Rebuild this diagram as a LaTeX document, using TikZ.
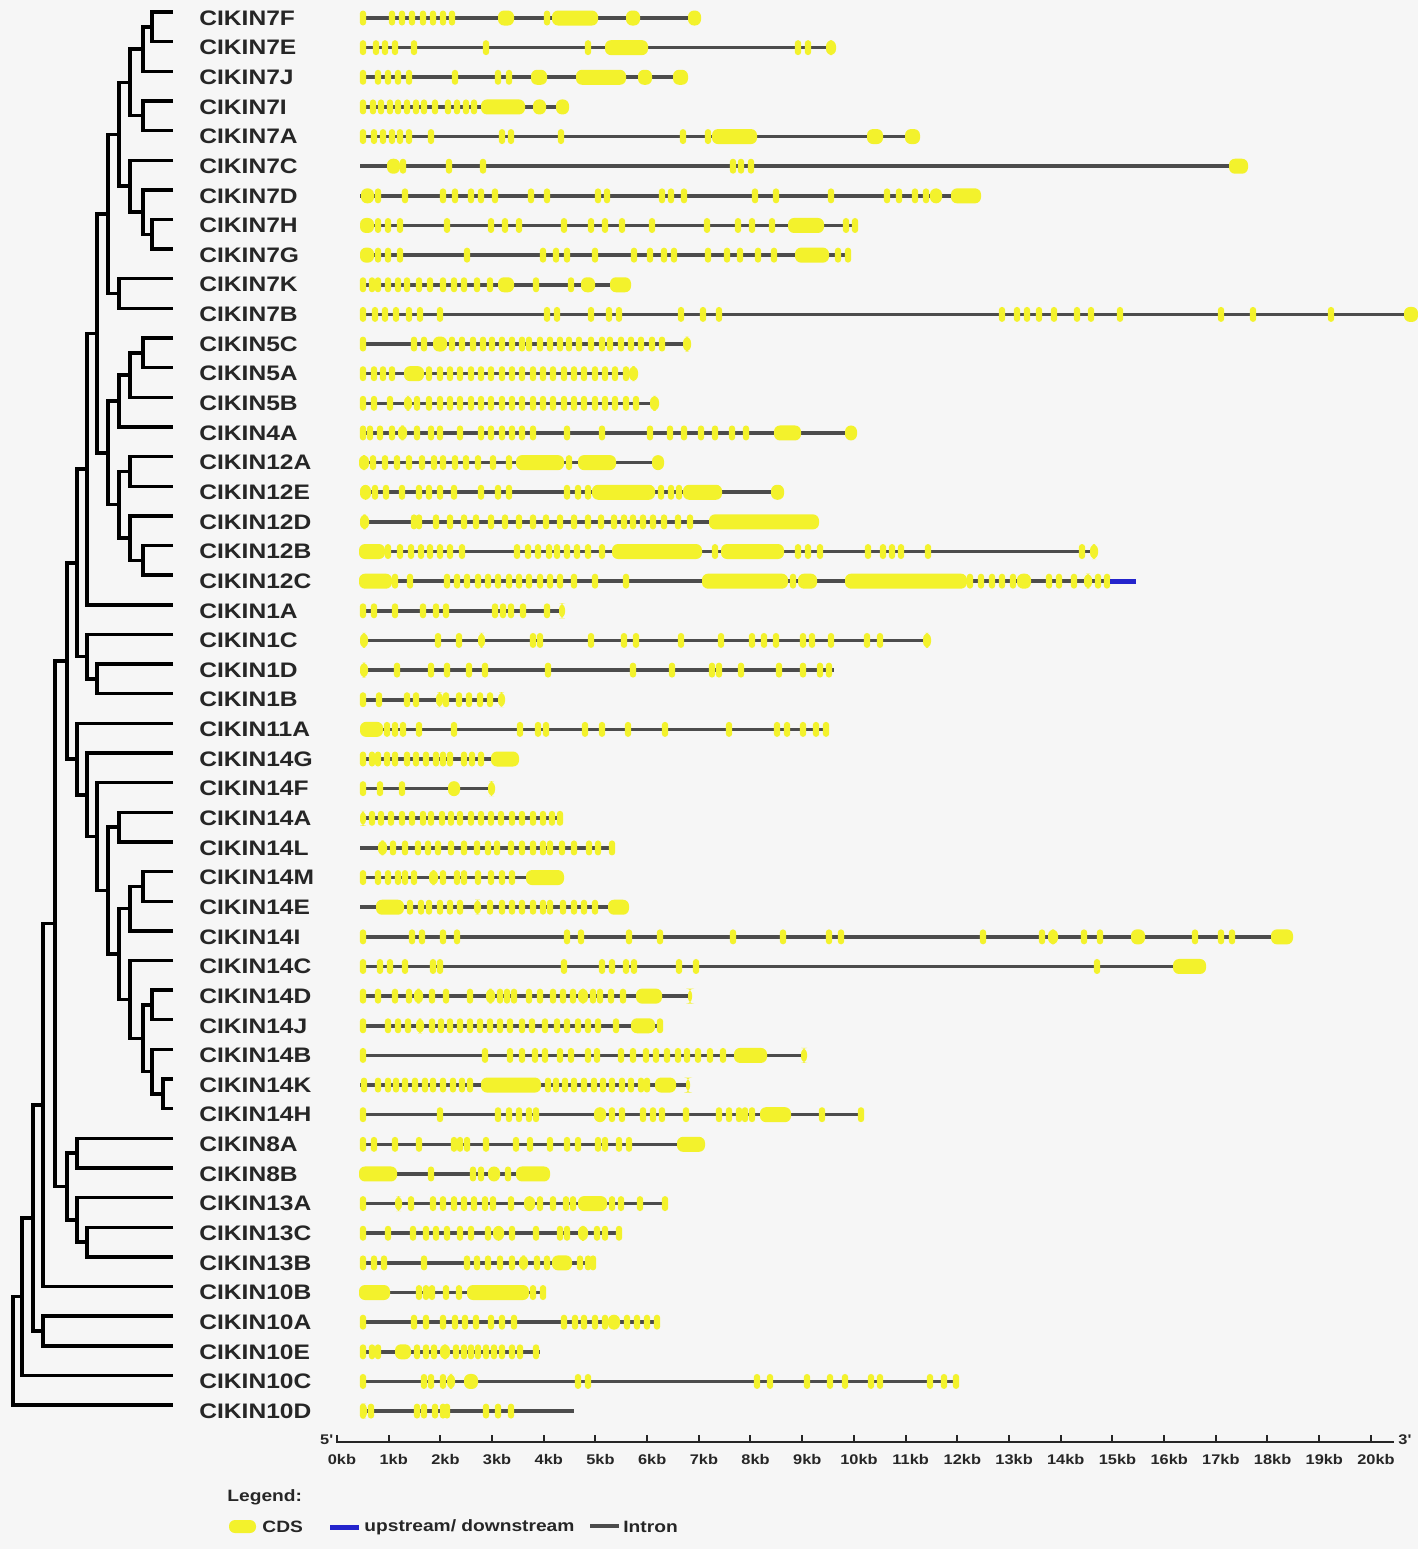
\documentclass[tikz,border=0pt]{standalone}
\usepackage{fontspec}
\setmainfont{Liberation Sans}[FakeStretch=1.17]
\usepackage{tikz}
\usetikzlibrary{calc}
\definecolor{paper}{HTML}{F6F6F6}
\definecolor{cdsy}{HTML}{F3F22C}
\definecolor{introngray}{HTML}{4C4C4C}
\definecolor{updown}{HTML}{2424CC}
\definecolor{ink}{HTML}{262626}

% one internal node of the tree: name, x, child a, child b
\newcommand{\clade}[4]{%
  \path let \p1=(#3), \p2=(#4), \p3=(#2,0) in (\x3,{0.5*(\y1+\y2)}) coordinate (#1);
  \draw[branch] (#3) -| (#1) |- (#4);
}
% one gene model: row, end, small exons, large exons
\newcommand{\gene}[4]{%
  \pgfmathsetmacro{\gy}{18+29.64*#1}
  \draw[intron] (360,\gy) -- (#2,\gy);
  \foreach \e in {#3} \fill[cds] (\e-3.2,\gy-7.5) rectangle (\e+3.2,\gy+7.5);
  \foreach \a/\b in {#4} \fill[cds,rounded corners=3pt] (\a,\gy-7.5) rectangle (\b,\gy+7.5);
}

\begin{document}
\begin{tikzpicture}[x=0.5pt,y=-0.5pt,
  branch/.style={line width=1.7pt, black},
  intron/.style={line width=1.8pt, introngray},
  cds/.style={fill=cdsy, rounded corners=1.6pt},
  genelabel/.style={anchor=west, inner sep=0pt, text=ink, font=\bfseries\fontsize{10.5}{12}\selectfont},
  kblabel/.style={inner sep=0pt, text=ink, font=\bfseries\fontsize{7}{8}\selectfont},
  legendtext/.style={anchor=west, inner sep=0pt, text=ink, font=\bfseries\fontsize{8.2}{10}\selectfont}
]
\fill[paper] (0,0) rectangle (1418,1549);
\useasboundingbox (0,0) rectangle (1418,1549);

% gene names and tree tips
\foreach \name [count=\i from 0] in {CIKIN7F,CIKIN7E,CIKIN7J,CIKIN7I,CIKIN7A,CIKIN7C,CIKIN7D,CIKIN7H,CIKIN7G,CIKIN7K,CIKIN7B,
  CIKIN5C,CIKIN5A,CIKIN5B,CIKIN4A,CIKIN12A,CIKIN12E,CIKIN12D,CIKIN12B,CIKIN12C,CIKIN1A,CIKIN1C,CIKIN1D,CIKIN1B,
  CIKIN11A,CIKIN14G,CIKIN14F,CIKIN14A,CIKIN14L,CIKIN14M,CIKIN14E,CIKIN14I,CIKIN14C,CIKIN14D,CIKIN14J,CIKIN14B,
  CIKIN14K,CIKIN14H,CIKIN8A,CIKIN8B,CIKIN13A,CIKIN13C,CIKIN13B,CIKIN10B,CIKIN10A,CIKIN10E,CIKIN10C,CIKIN10D} {
  \node[genelabel] (\name) at (199,{18+29.64*\i}) {\name};
  \coordinate (t\i) at (173,{12+29.64*\i});
}

% tree
\clade{n1}{152}{t0}{t1}
\clade{n2}{143}{n1}{t2}
\clade{n3}{143}{t3}{t4}
\clade{n4}{130}{n2}{n3}
\clade{n5}{152}{t7}{t8}
\clade{n6}{143}{t6}{n5}
\clade{n7}{130}{t5}{n6}
\clade{n8}{119}{n4}{n7}
\clade{n9}{119}{t9}{t10}
\clade{n10}{108}{n8}{n9}
\clade{n11}{143}{t11}{t12}
\clade{n12}{130}{n11}{t13}
\clade{n13}{119}{n12}{t14}
\clade{n14}{130}{t15}{t16}
\clade{n15}{143}{t18}{t19}
\clade{n16}{130}{t17}{n15}
\clade{n17}{119}{n14}{n16}
\clade{n18}{108}{n13}{n17}
\clade{n19}{97}{n10}{n18}
\clade{n20}{87}{n19}{t20}
\clade{n21}{97}{t22}{t23}
\clade{n22}{87}{t21}{n21}
\clade{n23}{77}{n20}{n22}
\clade{n24}{119}{t27}{t28}
\clade{n25}{143}{t29}{t30}
\clade{n26}{130}{n25}{t31}
\clade{n27}{152}{t33}{t34}
\clade{n28}{163}{t36}{t37}
\clade{n29}{152}{t35}{n28}
\clade{n30}{143}{n27}{n29}
\clade{n31}{130}{t32}{n30}
\clade{n32}{119}{n26}{n31}
\clade{n33}{108}{n24}{n32}
\clade{n34}{97}{t26}{n33}
\clade{n35}{87}{t25}{n34}
\clade{n36}{77}{t24}{n35}
\clade{n37}{67}{n23}{n36}
\clade{n38}{77}{t38}{t39}
\clade{n39}{87}{t41}{t42}
\clade{n40}{77}{t40}{n39}
\clade{n41}{67}{n38}{n40}
\clade{n42}{55}{n37}{n41}
\clade{n43}{43}{n42}{t43}
\clade{n44}{43}{t44}{t45}
\clade{n45}{33}{n43}{n44}
\clade{n46}{22}{n45}{t46}
\clade{n47}{13}{n46}{t47}

% gene models
\gene{0}{700}{363,392,402,412,423,433,443,452,547}{498/514,552/598,626/640,688/701}
\gene{1}{833}{363,376,385,395,414,486,588,798,808}{605/648,826/836}
\gene{2}{687}{363,378,388,398,409,455,498,509}{531/547,576/626,638/652,673/688}
\gene{3}{569}{363,373,381,390,398,407,416,424,435,448,457,466,474}{481/525,533/546,556/569}
\gene{4}{920}{363,374,383,392,400,409,431,502,511,561,683,708}{712/757,867/883,905/920}
\gene{5}{1248}{403,449,483,733,741,751}{387/400,1229/1248}
\gene{6}{981}{378,405,443,455,471,481,495,531,547,598,607,662,671,684,755,776,831,887,899,915,926}{361/374,930/942,951/981}
\gene{7}{857}{378,388,400,447,491,505,519,564,591,605,622,652,707,738,752,772,846,855}{360/374,788/824}
\gene{8}{851}{378,388,400,467,543,556,567,595,634,650,664,674,708,727,740,758,774,838,848}{360/374,795/829}
\gene{9}{631}{363,372,378,388,398,407,419,430,443,454,464,477,490,536,571}{498/514,581/595,610/631}
\gene{10}{1412}{363,375,385,396,409,420,440,547,557,591,609,619,681,703,719,1002,1017,1027,1039,1054,1077,1091,1120,1221,1253,1331}{1404/1418}
\gene{11}{691}{363,414,424,452,462,473,483,492,502,512,522,529,540,550,560,569,579,591,602,610,621,631,641,652,662}{433/447,683/691}
\gene{12}{637}{363,374,383,392,429,440,450,460,471,481,491,502,512,522,533,543,553,564,574,584,595,605,615,626}{404/424,629/638}
\gene{13}{659}{363,374,390,417,429,440,450,460,471,481,491,502,512,522,533,543,553,564,574,584,595,605,615,626,636}{404/412,650/659}
\gene{14}{857}{363,370,380,392,417,431,440,460,481,491,502,512,522,533,567,602,650,670,684,701,715,732,746}{398/407,774/801,845/857}
\gene{15}{664}{373,385,397,409,422,434,443,455,466,478,493,509,569}{359/369,516/564,578/616,652/664}
\gene{16}{784}{375,386,402,419,429,440,454,481,498,509,567,578,588,661,671,679}{360/371,592/655,683/722,771/784}
\gene{17}{819}{414,419,436,450,464,476,491,505,519,533,546,560,574,588,601,614,624,633,643,653,664,678,690}{360/369,709/819}
\gene{18}{1097}{388,400,411,421,430,440,450,462,517,528,538,549,557,567,577,588,602,715,798,808,820,868,883,892,901,928,1082}{359/385,612/702,721/784,1090/1098}
\gene{19}{1110}{395,410,447,457,467,478,488,498,509,519,529,540,550,560,574,595,626,793,970,981,992,1002,1013,1049,1059,1074,1098,1107}{359/392,702/788,798/817,845/967,1017/1031,1084/1092}
\gene{20}{565}{363,374,395,423,436,446,495,503,511,523,547}{559/565}
\gene{21}{930}{438,459,533,540,591,624,636,681,721,752,764,776,803,812,831,867,880}{360/368,478/485,923/931}
\gene{22}{834}{397,431,447,469,485,548,633,672,712,719,741,779,803,820,829}{360/368}
\gene{23}{503}{363,379,407,416,446,459,469,480,490}{436/443,498/505}
\gene{24}{828}{387,395,403,419,454,520,538,546,585,602,628,665,729,777,787,803,816,826}{360/383}
\gene{25}{519}{363,372,378,387,395,407,416,426,436,443,450,464,472,481}{491/519}
\gene{26}{495}{363,380,402}{448/460,488/495}
\gene{27}{562}{372,381,391,402,412,423,431,442,451,460,471,481,491,501,512,522,533,543,552,560}{360/366}
\gene{28}{613}{393,405,418,428,438,451,464,477,488,497,511,522,533,543,550,562,574,589,598,612}{378/387}
\gene{29}{564}{363,378,388,398,405,414,443,457,464,478,491,502,512}{429/438,526/564}
\gene{30}{629}{410,421,429,440,450,460,490,502,512,522,533,543,550,563,574,584,595}{376/404,474/481,608/629}
\gene{31}{1293}{363,412,422,443,457,567,581,629,660,733,783,829,841,983,1042,1084,1100,1195,1221,1232}{1048/1058,1131/1145,1271/1293}
\gene{32}{1206}{363,380,390,405,433,440,564,602,612,626,634,679,696,1097}{1173/1206}
\gene{33}{691}{363,378,395,409,432,446,470,500,507,514,529,540,553,563,573,593,600,611,623}{414/423,486/495,578/588,636/662,688/692}
\gene{34}{662}{363,388,398,408,432,441,450,460,470,480,490,500,510,522,532,545,557,567,578,588,598,616,660}{416/424,631/655}
\gene{35}{806}{363,485,510,522,535,545,560,571,588,597,621,633,646,656,667,678,687,698,710,723}{734/767,801/807}
\gene{36}{690}{364,378,388,396,405,415,425,433,443,453,462,470,548,556,565,574,584,594,603,612,622,631,641,647}{481/541,655/676,686/690}
\gene{37}{862}{363,440,498,509,519,529,536,612,622,643,653,662,686,719,729,739,745,752,822,861}{594/606,760/791}
\gene{38}{705}{363,374,395,419,454,460,467,486,516,530,550,567,578,598,605,619,629}{677/705}
\gene{39}{550}{431,473,481,508}{359/397,488/500,516/550}
\gene{40}{667}{363,411,433,443,454,464,474,485,493,511,540,553,566,573,612,621,640,665}{395/402,524/535,578/607}
\gene{41}{620}{363,388,413,426,436,447,460,471,488,512,536,560,567,597,605,619}{493/504,578/588}
\gene{42}{595}{363,374,384,424,467,477,488,500,512,537,547,580,588,593}{519/528,552/572}
\gene{43}{545}{419,426,432,446,459,533,543}{359/390,467/529}
\gene{44}{658}{363,414,426,443,455,465,476,491,502,514,564,575,584,595,605,627,637,647,657}{608/620}
\gene{45}{540}{363,372,378,417,426,434,456,464,471,478,486,494,502,512,520,536}{395/411,440/450}
\gene{46}{958}{363,424,431,443,578,588,757,770,807,830,845,871,880,930,944,956}{447/455,464/478}
\gene{47}{574}{363,371,417,424,435,443,447,486,498,511}{360/367}
% downstream region of CIKIN12C
\fill[updown] (1110,{18+29.64*19-2.5}) rectangle (1136,{18+29.64*19+2.5});

% scale bar
\draw[line width=1pt, ink] (336,1442) -- (1394,1442);
\foreach \n in {0,...,20} {
  \draw[line width=1pt, ink] ({336.8+51.7*\n},1442) -- ++(0,-7);
  \node[kblabel] (kb\n) at ({342+51.7*\n},1459) {\n kb};
}
\node[kblabel, anchor=east] (five) at (333,1440) {5\textquotesingle};
\node[kblabel, anchor=west] (three) at (1398,1440) {3\textquotesingle};

% legend
\node[legendtext] (legtitle) at (227,1497) {Legend:};
\fill[cds, rounded corners=3pt] (229,1520) rectangle (256,1533);
\node[legendtext] (legcds) at (262,1527) {CDS};
\fill[updown] (330,1524.5) rectangle (359,1529.5);
\node[legendtext] (legud) at (364,1527) {upstream/ downstream};
\draw[intron] (590,1526) -- (619,1526);
\node[legendtext] (legintron) at (623,1527) {Intron};
\end{tikzpicture}
\end{document}
